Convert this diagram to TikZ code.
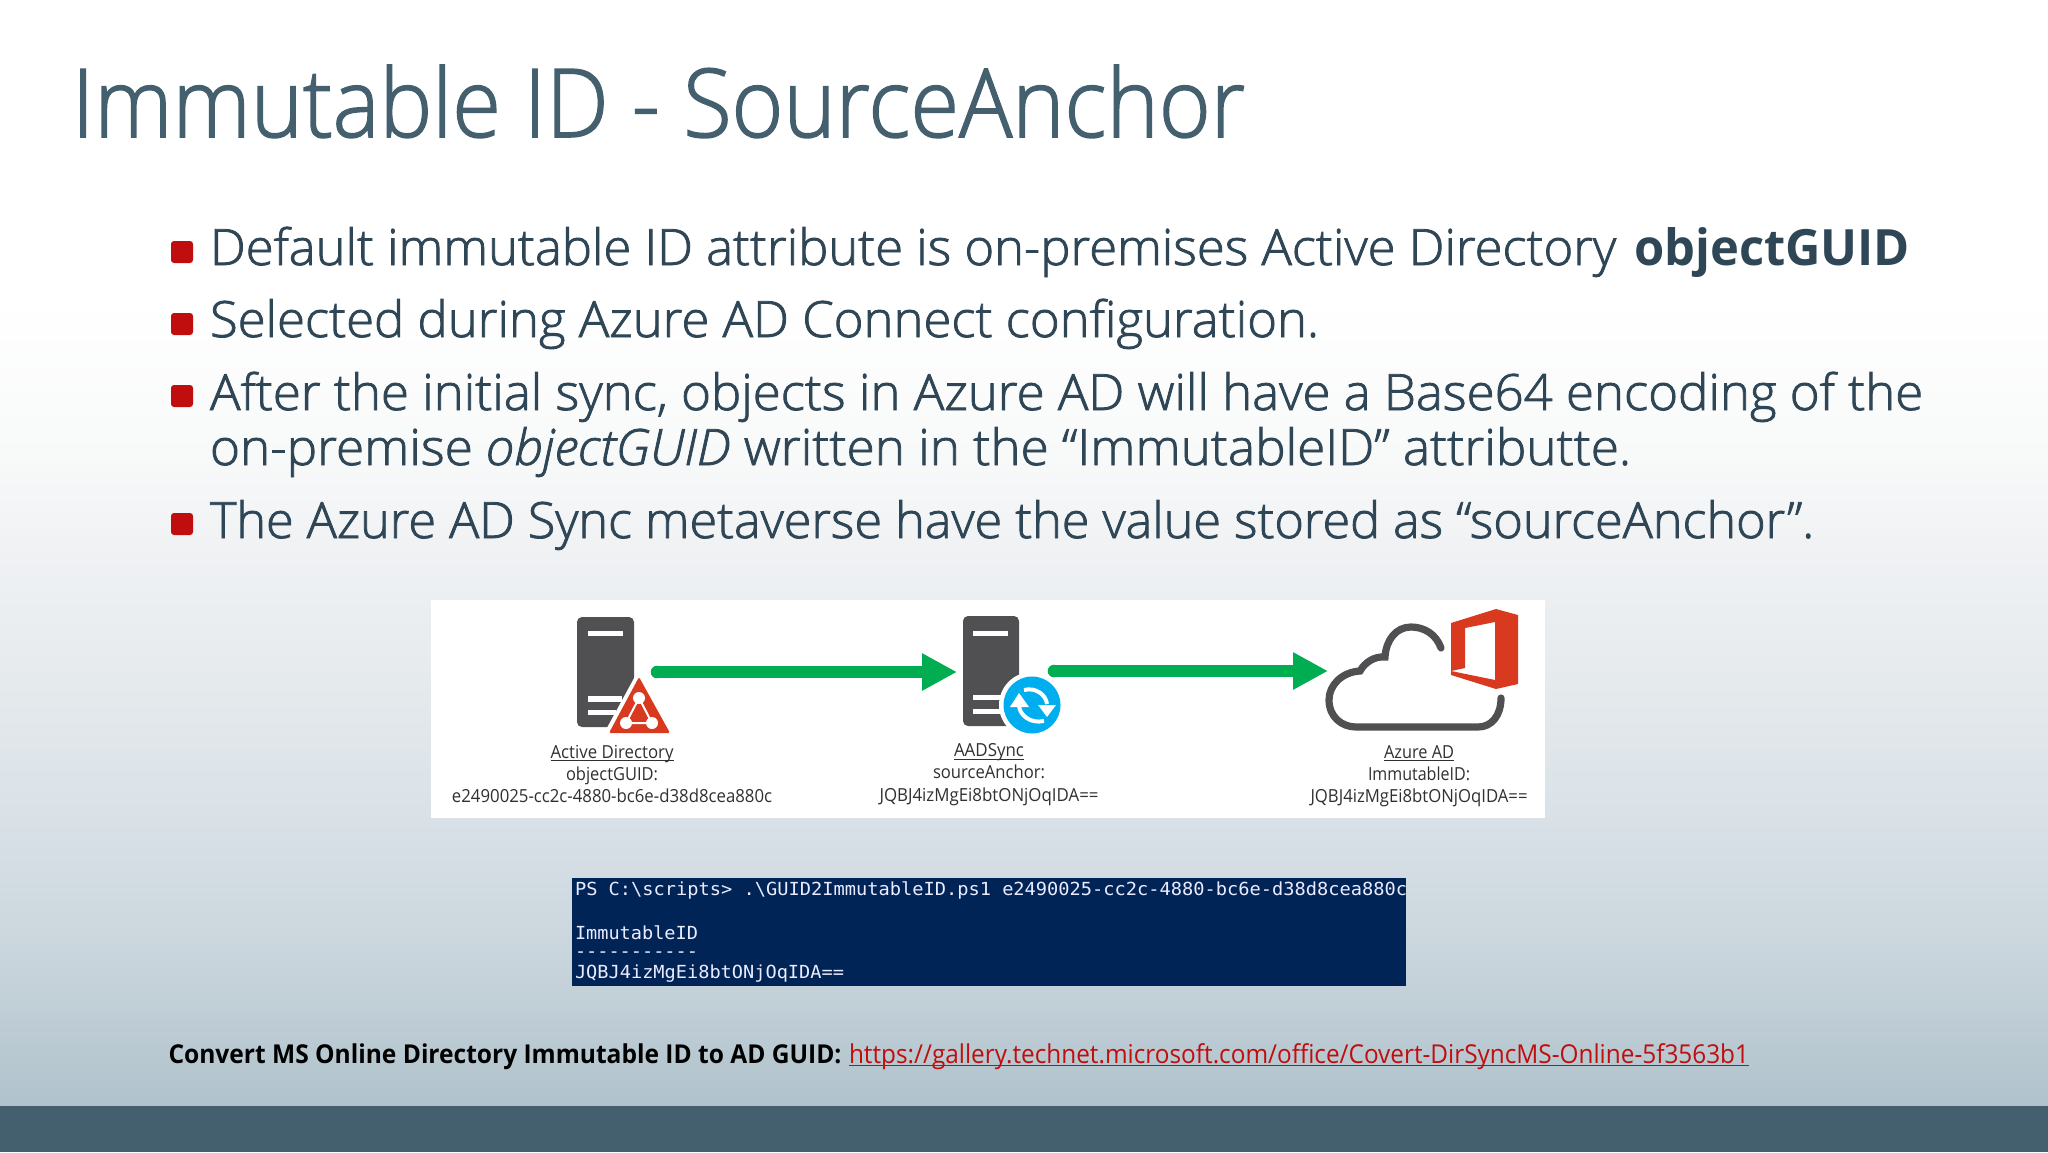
\documentclass[tikz,border=0pt]{standalone}
\usepackage{fontspec}
\usepackage{graphicx}
\usetikzlibrary{arrows.meta}
\setmainfont{Open Sans}[UprightFont={* Light},BoldFont={* Bold},ItalicFont={* Light Italic},UprightFeatures={FakeBold=1.6},ItalicFeatures={FakeBold=1.6}]
\newfontfamily\regfont{Open Sans}
\newfontfamily\monofont{DejaVu Sans Mono}
\definecolor{titlec}{HTML}{44606F}
\definecolor{bodyc}{HTML}{2F4656}
\definecolor{redc}{HTML}{C00D0D}
\definecolor{termc}{HTML}{012456}
\definecolor{srvc}{HTML}{505052}
\definecolor{grnc}{HTML}{00AD50}
\definecolor{adred}{HTML}{D9391E}
\definecolor{syncb}{HTML}{00AEEF}
\definecolor{lblc}{HTML}{303030}
\definecolor{bgA}{HTML}{FFFFFF}
\definecolor{bgB}{HTML}{F8F9F9}
\definecolor{bgC}{HTML}{F0F2F4}
\definecolor{bgD}{HTML}{E4E9EC}
\definecolor{bgE}{HTML}{DAE2E8}
\definecolor{bgF}{HTML}{C9D5DC}
\definecolor{bgG}{HTML}{B0C2CC}
\pgfdeclareverticalshading{slidebg}{100bp}{color(0bp)=(bgG); color(25bp)=(bgG); color(31.8bp)=(bgF); color(38.4bp)=(bgE); color(43.4bp)=(bgD); color(50.4bp)=(bgC); color(54.4bp)=(bgB); color(61.4bp)=(bgA); color(100bp)=(bgA)}
\newcommand{\fw}[2]{\resizebox{#1}{\height}{#2}}
\newcommand{\ul}[1]{\mbox{\rlap{\underline{\smash{#1}}}\phantom{#1}}}
\tikzset{
  txt/.style={anchor=base west,inner sep=0pt,outer sep=0pt},
  title/.style={txt,text=titlec,font=\fontsize{47.5pt}{50pt}\selectfont},
  bodyline/.style={txt,text=bodyc,font=\fontsize{25pt}{28pt}\selectfont},
  bullet/.style={fill=redc,rounded corners=1.5pt,minimum width=11pt,minimum height=11pt,inner sep=0pt,anchor=center},
  lbl/.style={anchor=base,inner sep=0pt,text=lblc,font=\regfont\fontsize{9pt}{10pt}\selectfont},
  term/.style={txt,text=white!92!blue,font=\monofont\fontsize{9pt}{10pt}\selectfont},
  foot/.style={txt,font=\regfont\fontsize{13pt}{15pt}\selectfont},
  flow/.style={draw=grnc,line width=6.3pt,-{Triangle[length=17.5pt,width=17.5pt]}},
  srv/.style={fill=srvc,rounded corners=2.5pt},
  gap/.style={fill=white},
  cloudline/.style={draw=srvc,line width=3.6pt,line cap=round},
  syncarc/.style={draw=white,line width=2pt}
}
\begin{document}
\begin{tikzpicture}[x=0.5pt,y=-0.5pt]
\useasboundingbox (0,0) rectangle (2048,1152);
\shade[shading=slidebg] (0,0) rectangle (2048,1106);
\fill[titlec] (0,1106) rectangle (2048,1152);
\node[title] (ttl) at (72,137) {\fw{586.5pt}{Immutable ID - SourceAnchor}};
\node[bullet] (b1) at (182,252) {};
\node[bullet] (b2) at (182,324) {};
\node[bullet] (b3) at (182,396) {};
\node[bullet] (b4) at (182,524) {};
\node[bodyline] (l1) at (210,265) {\fw{703pt}{Default immutable ID attribute is on-premises Active Directory}};
\node[bodyline] (l1b) at (1634,265) {\fw{138pt}{\textbf{objectGUID}}};
\node[bodyline] (l2) at (210,337) {\fw{554.5pt}{Selected during Azure AD Connect configuration.}};
\node[bodyline] (l3) at (210,410) {\fw{856.5pt}{After the initial sync, objects in Azure AD will have a Base64 encoding of the}};
\node[bodyline] (l4) at (210,465) {\fw{710.5pt}{on-premise \textit{objectGUID} written in the “ImmutableID” attributte.}};
\node[bodyline] (l5) at (210,538) {\fw{802pt}{The Azure AD Sync metaverse have the value stored as “sourceAnchor”.}};
% white picture
\fill[white] (431,600) rectangle (1545,818);
% server 1
\fill[srv] (577,617) rectangle (634,727);
\fill[gap] (588,631) rectangle (623,636);
\fill[gap] (588,696) rectangle (622,702);
\fill[gap] (588,710) rectangle (616,715);
\fill[gap] (639,669) -- (602,737) -- (676,737) -- cycle;
\fill[adred,rounded corners=1pt] (639,677) -- (609,733) -- (670,733) -- cycle;
\draw[white,line width=1pt] (639,698) -- (626,723) -- (652,723) -- cycle;
\fill[white] (639,698) circle (6) (626,723) circle (6) (652,723) circle (6);
% server 2
\fill[srv] (963,616) rectangle (1019,726);
\fill[gap] (973,631) rectangle (1008,636);
\fill[gap] (973,695) rectangle (1010,700);
\fill[gap] (973,709) rectangle (1010,714);
\fill[gap] (1032,705) circle (33);
\fill[syncb] (1032,705) circle (28.5);
\begin{scope}[shift={(1032,705)}]
  \draw[syncarc] (-13,1) .. controls (-12,10) and (-2,19) .. (12,16);
  \draw[syncarc] (15,-1) .. controls (14,-10) and (4,-18) .. (-8,-15);
  \fill[white] (-13,-12) -- (-22,2) -- (-3,2) -- cycle;
  \fill[white] (15,12) -- (6,0) -- (24,0) -- cycle;
\end{scope}
% cloud
\draw[cloudline] (1441,648) .. controls (1436,634) and (1424,627) .. (1411,627)
  .. controls (1396,627) and (1386,640) .. (1385,657)
  .. controls (1375,656) and (1365,662) .. (1360,671)
  .. controls (1342,672) and (1329,685) .. (1329,700)
  .. controls (1329,717) and (1342,727) .. (1356,727)
  -- (1478,727) .. controls (1492,727) and (1501,715) .. (1501,698);
% office logo
\fill[adred,even odd rule] (1496,609) -- (1518,615) -- (1518,684) -- (1496,689) -- (1451,675) -- (1451,623) -- cycle
  (1465,628) -- (1495,622) -- (1495,680) -- (1451,671) -- (1465,668) -- cycle;
% flow arrows
\coordinate (a1s) at (657,672);
\coordinate (a1e) at (957,672);
\coordinate (a2s) at (1054,671);
\coordinate (a2e) at (1328,671);
\draw[flow] (a1s) -- (a1e);
\draw[flow] (a2s) -- (a2e);
\fill[grnc] (a1s) circle (6.3);
\fill[grnc] (a2s) circle (6.3);
% labels
\node[lbl] (ad1) at (612,758) {\fw{61.5pt}{\ul{Active Directory}}};
\node[lbl] (ad2) at (612,780) {\fw{46pt}{objectGUID:}};
\node[lbl] (ad3) at (612,802) {\fw{160pt}{e2490025-cc2c-4880-bc6e-d38d8cea880c}};
\node[lbl] (sy1) at (989,756.5) {\fw{35pt}{\ul{AADSync}}};
\node[lbl] (sy2) at (989,778) {\fw{56pt}{sourceAnchor:}};
\node[lbl] (sy3) at (989,801) {\fw{109.5pt}{JQBJ4izMgEi8btONjOqIDA==}};
\node[lbl] (az1) at (1419,758) {\fw{35pt}{\ul{Azure AD}}};
\node[lbl] (az2) at (1419,780) {\fw{51pt}{ImmutableID:}};
\node[lbl] (az3) at (1419,802) {\fw{108.5pt}{JQBJ4izMgEi8btONjOqIDA==}};
% terminal
\fill[termc] (572,878) rectangle (1406,986);
\node[term] (t1) at (575,895) {\fw{416pt}{PS C:\textbackslash scripts> .\textbackslash GUID2ImmutableID.ps1 e2490025-cc2c-4880-bc6e-d38d8cea880c}};
\node[term] (t2) at (575,939) {\fw{61.5pt}{ImmutableID}};
\node[term] (t3) at (575,957) {\fw{61.5pt}{-----------}};
\node[term] (t4) at (575,978) {\fw{134.5pt}{JQBJ4izMgEi8btONjOqIDA==}};
% footer
\node[foot,text=black] (f1) at (168.5,1063) {\fw{336.5pt}{\bfseries Convert MS Online Directory Immutable ID to AD GUID:}};
\node[foot,text=redc] (f2) at (849,1063) {\fw{450pt}{\ul{https://gallery.technet.microsoft.com/office/Covert-DirSyncMS-Online-5f3563b1}}};
\end{tikzpicture}
\end{document}
